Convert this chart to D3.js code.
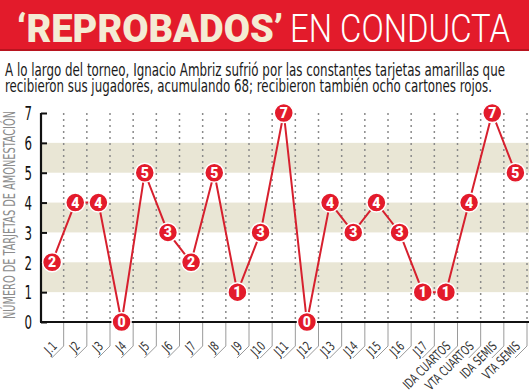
<!DOCTYPE html>
<html>
<head>
<meta charset="utf-8">
<script src="https://cdn.jsdelivr.net/npm/d3@7"></script>
<style>
  html, body { margin: 0; padding: 0; background: #fff; }
  svg { display: block; }
</style>
</head>
<body>
<div id="chart"></div>
<script>
// ---- data ----
const categories = ["J.1","J2","J3","J4","J5","J6","J7","J8","J9","J10","J11","J12","J13","J14","J15","J16","J17","IDA CUARTOS","VTA CUARTOS","IDA SEMIS","VTA SEMIS"];
const cards = [2,4,4,0,5,3,2,5,1,3,7,0,4,3,4,3,1,1,4,7,5];
const yTicks = [0,1,2,3,4,5,6,7];
const bandRanges = [[1,2],[3,4],[5,6]];
const titleBold = "\u2018REPROBADOS\u2019";
const titleLight = "EN CONDUCTA";
const subtitleLines = [
  "A lo largo del torneo, Ignacio Ambriz sufrió por las constantes tarjetas amarillas que",
  "recibieron sus jugadores, acumulando 68; recibieron también ocho cartones rojos."
];
const yTitle = "NÚMERO DE TARJETAS DE AMONESTACIÓN";

// ---- setup ----
const W = 529, H = 392;
const svg = d3.select("#chart").append("svg").attr("width", W).attr("height", H);
const COND = '"Liberation Sans Narrow", "DejaVu Sans Condensed", "Roboto Condensed", sans-serif';

const x = d3.scaleBand().domain(categories).range([40.5, 527]).paddingInner(0).paddingOuter(0);
const y = d3.scaleLinear().domain([0, 7]).range([322, 113]);

// header
svg.append("rect").attr("x", 0).attr("y", 0).attr("width", W).attr("height", 50).attr("fill", "#e31b2b");
svg.append("rect").attr("x", 0).attr("y", 49).attr("width", W).attr("height", 2).attr("fill", "#b8141f");
svg.append("text").attr("transform", "translate(17,42) scale(1,1.08)")
  .attr("font-family", "Roboto, 'DejaVu Sans', sans-serif").attr("font-weight", 900).attr("font-size", 36)
  .attr("fill", "#f4ebd4").attr("textLength", 266).attr("lengthAdjust", "spacingAndGlyphs")
  .text(titleBold);
svg.append("text").attr("transform", "translate(290,42) scale(1,1.15)")
  .attr("font-family", "Roboto, 'DejaVu Sans', sans-serif").attr("font-weight", 300).attr("font-size", 34)
  .attr("fill", "#ffffff").attr("textLength", 220).attr("lengthAdjust", "spacingAndGlyphs")
  .text(titleLight);

// subtitle
const subLens = [500, 487];
subtitleLines.forEach((t, i) => {
  svg.append("text").attr("transform", `translate(5,${76 + i * 16}) scale(1,1.3)`)
    .attr("font-family", COND).attr("font-size", 13).attr("fill", "#1a1a1a")
    .attr("textLength", subLens[i]).attr("lengthAdjust", "spacingAndGlyphs")
    .text(t);
});

// bands
svg.append("g").selectAll("rect").data(bandRanges).join("rect")
  .attr("x", 41).attr("width", W - 41)
  .attr("y", d => y(d[1])).attr("height", d => y(d[0]) - y(d[1]))
  .attr("fill", "#e9e6d5");

// vertical dotted gridlines at band boundaries
const boundaries = categories.map(c => x(c) + x.bandwidth());
svg.append("g").selectAll("line").data(boundaries).join("line")
  .attr("x1", d => d).attr("x2", d => d)
  .attr("y1", y(7)).attr("y2", y(0))
  .attr("stroke", "#8a8a8a").attr("stroke-width", 1.5).attr("stroke-dasharray", "2,4");

// separators below x axis
const sep = svg.append("g").attr("stroke", "#9a9a9a").attr("stroke-width", 1).attr("fill", "none");
sep.selectAll("path").data(boundaries).join("path")
  .attr("d", d => `M${d},${y(0)}V346L${d - 12},358`);

// x labels (font shrunk horizontally via smaller size + vertical scale)
const xl = svg.append("g").selectAll("text").data(categories).join("text")
  .attr("text-anchor", "end")
  .attr("font-family", COND).attr("font-size", 13).attr("fill", "#333")
  .text(d => d);
let ratio = 0.8;
xl.filter(d => d === "IDA CUARTOS").each(function () { ratio = 61 / this.getComputedTextLength(); });
xl.attr("font-size", 13 * ratio)
  .attr("transform", d => `translate(${x(d) + x.bandwidth() - 6},347) rotate(-45) scale(1,${1 / ratio})`);

// y axis
const yAxis = d3.axisLeft(y).tickValues(yTicks).tickSize(-6).tickPadding(9).tickFormat(d3.format("d"));
const ga = svg.append("g").attr("transform", "translate(41,0)").call(yAxis);
ga.select(".domain").attr("stroke", "#111").attr("stroke-width", 2.2).attr("d", `M0,${y(7)}V${y(0)}`);
ga.selectAll(".tick line").attr("stroke", "#111").attr("stroke-width", 2);
ga.selectAll(".tick text").attr("font-family", COND).attr("font-size", 19).attr("fill", "#111")
  .attr("dy", "0.36em").attr("textLength", 7.5).attr("lengthAdjust", "spacingAndGlyphs");

// x axis baseline
svg.append("line").attr("x1", 40).attr("x2", W).attr("y1", y(0)).attr("y2", y(0))
  .attr("stroke", "#111").attr("stroke-width", 2.2);

// y title
svg.append("text").attr("transform", `translate(15,${(112 + 318) / 2}) rotate(-90) scale(1,1.2)`)
  .attr("text-anchor", "middle").attr("font-family", COND).attr("font-size", 13)
  .attr("fill", "#8c8c8c").attr("textLength", 208).attr("lengthAdjust", "spacingAndGlyphs")
  .text(yTitle);

// line
const line = d3.line().x((d, i) => x(categories[i]) + x.bandwidth() / 2).y(d => y(d));
svg.append("path").datum(cards).attr("d", line)
  .attr("fill", "none").attr("stroke", "#d7202e").attr("stroke-width", 2);

// markers
const mk = svg.append("g").selectAll("g").data(cards).join("g")
  .attr("transform", (d, i) => `translate(${x(categories[i]) + x.bandwidth() / 2},${y(d)})`);
mk.append("circle").attr("r", 9.5).attr("fill", "#e31b2b").attr("stroke", "#fff").attr("stroke-width", 1.5);
mk.append("text").attr("text-anchor", "middle").attr("dy", "0.36em")
  .attr("font-family", "Roboto, 'DejaVu Sans', sans-serif").attr("font-weight", 900).attr("font-size", 14)
  .attr("fill", "#fff").text(d => d);
</script>
</body>
</html>
